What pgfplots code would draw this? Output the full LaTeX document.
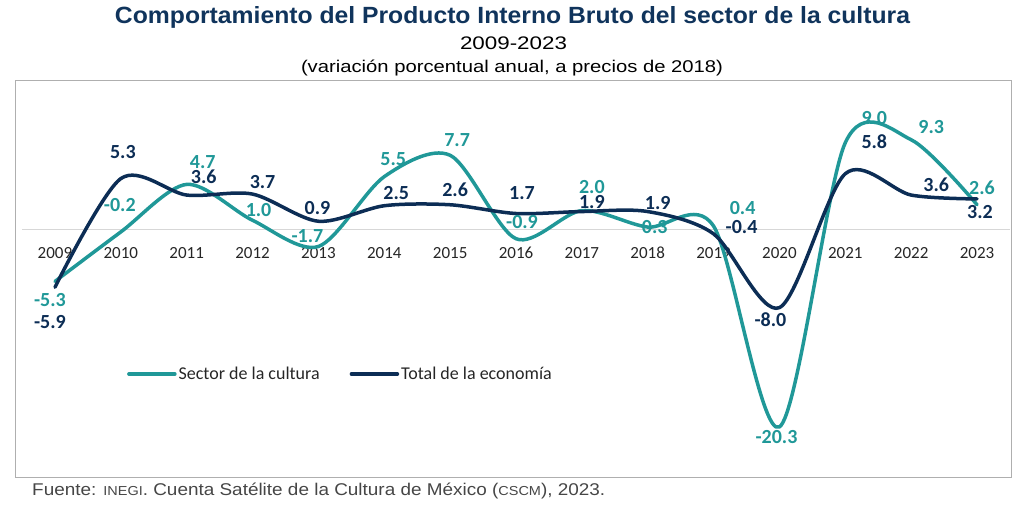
\documentclass[border=0pt]{standalone}
\usepackage{graphicx}
\usepackage{pgfplots}
\pgfplotsset{compat=1.18}
\usepackage{pgfplotstable}
\usepackage{fontspec}
\setmainfont{Carlito}
\newfontfamily\arialfont{Liberation Sans}
\definecolor{teal1}{RGB}{32,152,152}
\definecolor{navy1}{RGB}{12,45,85}
\definecolor{titleblue}{RGB}{16,52,92}
\definecolor{framegray}{RGB}{175,175,175}
\definecolor{zerogray}{RGB}{215,215,215}
\definecolor{footgray}{RGB}{70,70,70}

\pgfplotstableread{
x y dx dy
0 -5.3 -5 -19
1 -0.2 -1 27
2 4.7 16 22
3 1.0 6 10
4 -1.7 -11 10
5 5.5 9 18
6 7.7 7 15
7 -0.9 6 17
8 2.0 10 24
9 0.3 7 0
10 0.4 29 18
11 -20.3 -3 -10
12 9.0 29 25
13 9.3 20 13
14 2.6 5 17
}\cultura

\pgfplotstableread{
x y dx dy
0 -5.9 -5 -35
1 5.3 2 27
2 3.6 17 18
3 3.7 10 12
4 0.9 -1 13
5 2.5 12 13
6 2.6 5 15
7 1.7 6 20
8 1.9 10 10
9 1.9 10 9
10 -0.4 28 7
11 -8.0 -9 -12
12 5.8 29 32
13 3.6 25 10
14 3.2 3 -13
}\total

\begin{document}
\begin{tikzpicture}[x=1pt,y=1pt]
\begin{axis}[
  at={(15pt,29pt)}, anchor=south west,
  width=996pt, height=397pt, scale only axis,
  xmin=-0.607, xmax=14.516, ymin=-25.46, ymax=15.46,
  axis line style={draw=framegray, line width=0.8pt},
  xtick={0,1,2,3,4,5,6,7,8,9,10,11,12,13,14},
  xticklabels={2009,2010,2011,2012,2013,2014,2015,2016,2017,2018,2019,2020,2021,2022,2023},
  major tick length=0pt,
  xtick style={draw=none},
  xticklabel style={anchor=center, yshift=224pt, font=\fontsize{17}{20}\selectfont, text=black!85},
  ytick=\empty,
  clip=false,
  legend style={at={(axis description cs:0.1124,0.2594)}, anchor=west, draw=none, fill=none,
    legend columns=2, font=\fontsize{18}{21}\selectfont, text=black!85,
    /tikz/every even column/.append style={column sep=28pt}, inner sep=0pt},
  legend image code/.code={\draw[#1, line width=3.5pt, line cap=round] (0pt,0pt) -- (46pt,0pt);},
]
\addplot[zerogray, line width=1pt, forget plot] coordinates {(-0.5,0) (14.5,0)};
\addplot[teal1, line width=3.5pt, line cap=round, line join=round, smooth, tension=0.5,
  visualization depends on={\thisrow{dx}\as\dx},
  visualization depends on={\thisrow{dy}\as\dy},
  nodes near coords={\pgfmathprintnumber[fixed,fixed zerofill,precision=1,assume math mode=true]{\pgfplotspointmeta}},
  every node near coord/.append style={anchor=center, xshift=\dx pt, yshift=\dy pt, text=teal1, font=\bfseries\fontsize{20}{24}\selectfont}]
  table[x=x,y=y] {\cultura};
\addlegendentry{Sector de la cultura}
\addplot[navy1, line width=3.5pt, line cap=round, line join=round, smooth, tension=0.5,
  visualization depends on={\thisrow{dx}\as\dx},
  visualization depends on={\thisrow{dy}\as\dy},
  nodes near coords={\pgfmathprintnumber[fixed,fixed zerofill,precision=1,assume math mode=true]{\pgfplotspointmeta}},
  every node near coord/.append style={anchor=center, xshift=\dx pt, yshift=\dy pt, text=navy1, font=\bfseries\fontsize{20}{24}\selectfont}]
  table[x=x,y=y] {\total};
\addlegendentry{Total de la economía}
\end{axis}
\node[anchor=base, text=titleblue, font=\arialfont\bfseries\fontsize{24}{28}\selectfont, inner sep=0pt] at (512.5,482) {\resizebox{795pt}{17pt}{Comportamiento del Producto Interno Bruto del sector de la cultura}};
\node[anchor=base, font=\arialfont\fontsize{18}{22}\selectfont, inner sep=0pt] at (513.5,456) {\resizebox{107pt}{12.7pt}{2009-2023}};
\node[anchor=base, font=\arialfont\fontsize{17}{21}\selectfont, inner sep=0pt] at (512,433) {\resizebox{422pt}{\height}{(variación porcentual anual, a precios de 2018)}};
\node[anchor=base west, text=footgray, font=\arialfont\fontsize{17}{20}\selectfont, inner sep=0pt] at (32,11) {\resizebox{573pt}{\height}{Fuente: {\fontsize{13}{15}\selectfont INEGI}. Cuenta Satélite de la Cultura de México ({\fontsize{13}{15}\selectfont CSCM}), 2023.}};
\pgfresetboundingbox
\useasboundingbox (0,0) rectangle (1024,506);
\end{tikzpicture}
\end{document}
